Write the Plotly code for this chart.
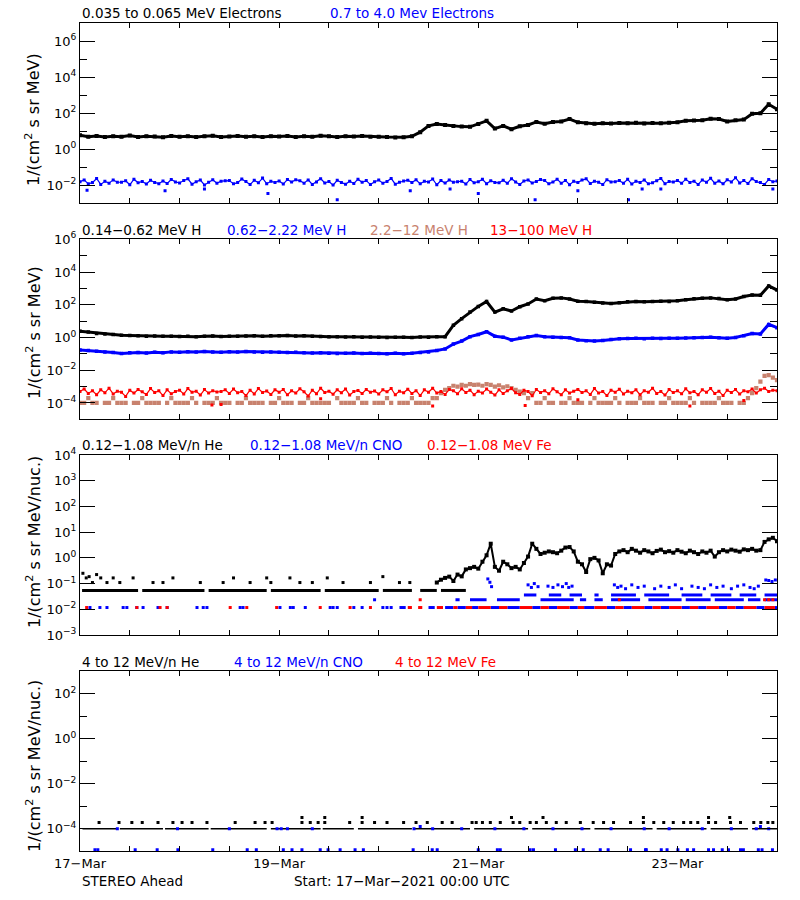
import numpy as np
import plotly.graph_objects as go

# ---------------- DATA (log10 of flux) ----------------
# hours since 17-Mar-2021 00:00 UTC
# Panel 1: electrons (2-hourly / hourly)
e_lo_log = [0.78,0.70,0.74,0.68,0.73,0.70,0.76,0.69,0.72,0.71,0.67,0.74,
            0.70,0.73,0.68,0.72,0.75,0.69,0.71,0.74,0.70,0.73,0.68,0.72,
            0.71,0.74,0.69,0.73,0.70,0.75,0.72,0.68,0.73,0.71,0.74,0.70,
            0.70,0.68,0.66,0.67,0.72,0.95,1.30,1.40,1.35,1.30,1.26,1.25,
            1.40,1.58,1.15,1.30,1.12,1.28,1.35,1.52,1.42,1.52,1.55,1.68,
            1.50,1.45,1.42,1.45,1.43,1.46,1.45,1.47,1.44,1.46,1.45,1.47,
            1.50,1.58,1.60,1.62,1.70,1.68,1.55,1.62,1.65,1.98,2.00,2.50,
            2.22]
e_hi_log = [-1.80,-1.70,-1.92,-1.85,-1.62,-1.95,-1.78,-1.88,-1.70,-1.83,-1.83,-1.75,-1.97,-1.66,-1.86,-1.79,-1.93,-1.72,-1.84,-1.91,-1.76,-1.90,-1.68,-1.81,
            -1.87,-1.73,-1.64,-1.94,-1.80,-1.71,-1.98,-1.83,-1.69,-1.89,-1.77,-1.75,-1.74,-1.92,-1.85,-1.65,-1.79,-1.96,-1.72,-1.86,-1.60,-1.91,-1.78,-1.84,
            -1.76,-1.93,-1.68,-1.82,-1.69,-1.75,-1.88,-1.70,-1.95,-1.81,-1.63,-1.87,-1.79,-1.99,-1.72,-1.84,-1.94,-1.77,-1.90,-1.66,-1.83,-1.74,-1.96,-1.80,
            -1.71,-1.88,-1.79,-1.62,-1.94,-1.83,-1.76,-1.72,-1.85,-1.69,-1.92,-1.78,-1.81,-1.65,-1.97,-1.74,-1.87,-1.70,-1.83,-1.80,-1.77,-1.93,-1.68,-1.86,
            -1.80,-1.67,-1.91,-1.75,-1.84,-1.86,-1.72,-1.89,-1.63,-1.82,-1.95,-1.76,-1.70,-1.87,-1.79,-1.68,-1.74,-1.92,-1.81,-1.66,-1.88,-1.73,-1.97,-1.78,
            -1.85,-1.71,-1.64,-1.90,-1.77,-1.83,-1.96,-1.69,-1.81,-1.80,-1.74,-1.88,-1.67,-1.93,-1.78,-1.84,-1.71,-1.92,-1.86,-1.75,-1.62,-1.91,-1.79,-1.82,
            -1.73,-1.89,-1.66,-1.84,-1.77,-1.95,-1.70,-1.83,-1.61,-1.88,-1.76,-1.92,-1.69,-1.81,-1.58,-1.87,-1.74,-1.90,-1.63,-1.79,-1.85,-1.95,-1.68,-1.80,
            -1.76]
e_hi_out_h = [1.7, 20.5, 30, 45.3, 62, 79.6, 89.2, 96, 109.7, 120, 132.2, 135.5, 140, 167]
e_hi_out_log = [-2.28, -2.30, -2.20, -2.45, -2.80, -2.30, -2.20, -2.45, -2.80, -2.30, -2.80, -2.20, -2.20, -2.20]

# Panel 2: protons
h_lo_log = [0.38,0.33,0.25,0.22,0.18,0.14,0.12,0.10,0.08,0.09,0.07,0.08,
            0.06,0.08,0.05,0.07,0.09,0.06,0.08,0.07,0.09,0.10,0.08,0.11,
            0.10,0.12,0.09,0.11,0.08,0.06,0.05,0.04,0.03,0.05,0.02,0.03,
            0.02,0.00,0.01,0.02,0.00,0.03,0.02,0.04,0.05,0.75,1.15,1.55,
            1.90,2.20,1.55,1.75,1.62,1.88,2.05,2.35,2.25,2.40,2.42,2.35,
            2.22,2.20,2.15,2.10,2.07,2.12,2.18,2.20,2.18,2.20,2.22,2.20,
            2.25,2.30,2.36,2.40,2.42,2.38,2.30,2.35,2.50,2.60,2.58,3.15,
            2.90]
h_mid_log = [-0.77,-0.80,-0.84,-0.88,-0.92,-0.98,-0.93,-0.92,-0.95,-0.90,-0.93,-0.88,
             -0.90,-0.87,-0.89,-0.86,-0.88,-0.90,-0.87,-0.89,-0.86,-0.88,-0.91,-0.89,
             -0.90,-0.92,-0.91,-0.93,-0.95,-0.94,-0.96,-0.98,-0.97,-0.95,-0.98,-0.96,
             -0.98,-1.00,-0.97,-0.99,-0.96,-0.92,-0.88,-0.80,-0.70,-0.40,-0.22,0.05,
             0.18,0.35,0.08,0.02,-0.15,-0.05,0.05,0.12,0.05,0.02,0.00,-0.02,
             -0.15,-0.20,-0.22,-0.18,-0.12,-0.08,-0.06,-0.05,-0.07,-0.05,-0.06,-0.04,
             -0.05,-0.03,-0.02,0.00,0.02,-0.02,-0.05,0.00,0.10,0.24,0.22,0.80,
             0.60]
h_hi_log = [-4.0,-4.0,-3.7,-4.0,-4.0,None,-4.0,-4.0,-3.7,-4.0,-4.0,-4.0,None,-4.0,-4.0,-3.7,-4.0,-4.0,-4.0,-4.0,None,-4.0,-3.7,-4.0,
            -4.0,-4.0,-4.0,-3.7,-4.0,None,-4.0,-4.0,-4.0,-3.7,-4.0,-4.0,-4.0,None,-4.0,-4.0,-3.7,-4.0,-4.0,-4.0,-4.0,None,-4.0,-4.0,
            -3.7,-4.0,-4.0,-4.0,None,-4.0,-4.0,-3.7,-4.0,-4.0,-4.0,-4.0,-4.0,None,-3.7,-4.0,-4.0,-4.0,-4.0,-3.7,-4.0,-4.0,None,-4.0,
            -4.0,-4.0,-3.7,-4.0,None,-4.0,-4.0,-4.0,-3.7,-4.0,-4.0,-4.0,-4.0,-3.7,-3.7,-3.4,-3.2,-3.1,-2.95,-3.0,-2.9,-2.95,-2.85,-2.9,
            -2.88,-2.95,-2.85,-2.9,-3.0,-2.92,-3.05,-2.98,-3.1,-3.2,-3.3,-3.4,-3.7,-3.4,-4.0,-4.0,-3.7,-4.0,-4.0,None,-4.0,-4.0,-3.7,-4.0,
            -4.0,-4.0,None,-4.0,-3.7,-4.0,-4.0,-4.0,-4.0,-3.7,-4.0,None,-4.0,-4.0,-4.0,-3.7,-4.0,-4.0,-4.0,None,-4.0,-4.0,-3.7,-4.0,
            -4.0,-4.0,-4.0,-3.7,-4.0,None,-4.0,-4.0,-4.0,-4.0,-3.7,-4.0,-4.0,-4.0,None,-4.0,-4.0,-3.7,-3.4,-3.1,-2.7,-2.35,-2.3,-2.45,
            -2.6]
h_top_log = [-3.30,-3.15,-3.42,-3.25,-3.50,-3.20,-3.38,-3.10,-3.45,-3.28,-3.35,-3.60,-3.22,-3.40,-3.18,-3.32,-3.48,-3.12,-3.36,-3.26,-3.55,-3.20,-3.44,-3.30,
             -3.22,-3.46,-3.12,-3.35,-3.28,-3.52,-3.18,-3.40,-3.25,-3.33,-3.30,-3.20,-3.42,-3.15,-3.38,-3.30,-3.55,-3.22,-3.45,-3.12,-3.36,-3.27,-3.48,-3.20,
             -3.34,-3.18,-3.50,-3.26,-3.40,-3.14,-3.32,-3.58,-3.22,-3.44,-3.10,-3.36,-3.28,-3.47,-3.20,-3.38,-3.15,-3.52,-3.30,-3.24,-3.42,-3.18,-3.35,-3.27,
             -3.45,-3.20,-3.32,-3.12,-3.50,-3.28,-3.38,-3.16,-3.42,-3.25,-3.55,-3.20,-3.35,-3.10,-3.40,-3.30,-3.48,-3.18,-3.26,-3.44,-3.14,-3.36,-3.22,-3.50,
             -3.28,-3.40,-3.15,-3.34,-3.52,-3.20,-3.42,-3.26,-3.12,-3.38,-3.48,-3.22,-3.30,-3.56,-3.18,-3.36,-3.25,-3.44,-3.14,-3.32,-3.50,-3.20,-3.40,-3.28,
             -3.18,-3.36,-3.26,-3.48,-3.12,-3.40,-3.30,-3.55,-3.22,-3.34,-3.16,-3.45,-3.28,-3.38,-3.20,-3.50,-3.25,-3.35,-3.10,-3.42,-3.30,-3.52,-3.18,-3.36,
             -3.26,-3.44,-3.14,-3.38,-3.30,-3.50,-3.20,-3.35,-3.12,-3.42,-3.28,-3.55,-3.22,-3.36,-3.18,-3.46,-3.25,-3.32,-3.15,-3.40,-3.20,-3.10,-3.30,-3.22,
             -3.25]
h_top_out_h = [31.8, 34, 58, 85, 107.3, 120, 147, 160]
h_top_out_log = [-4.13, -4.10, -3.75, -4.19, -4.15, -3.80, -4.19, -3.85]

# Panel 3: 0.12-1.08 MeV/n ions
he_base_val = 0.054
he_base_seg = [(0.5, 14), (15, 30), (31, 45), (46, 58), (59, 72), (73, 80), (82, 86), (87, 93)]
he_sparse_h = [0.7, 1.5, 2.2, 3.0, 4.0, 5.0, 6.5, 8, 9.6, 12.8, 17.6, 20, 22.4, 29, 34.5, 37, 41,
               45, 46, 50.6, 53, 56, 59.6, 63.4, 70, 73, 77, 79.5]
he_sparse_log = [-0.60, -0.78, -0.73, -0.96, -0.65, -0.78, -0.96, -0.78, -0.96, -0.78, -0.96, -0.96,
                 -0.78, -0.96, -0.96, -0.78, -0.96, -0.78, -0.96, -0.78, -0.96, -0.96, -0.78, -0.96,
                 -0.96, -0.73, -0.96, -0.96]
he_evt_start = 86
he_evt_log = [-0.96,-0.85,-0.78,-0.73,-0.90,-0.65,-0.72,-0.45,-0.40,-0.35,
              -0.42,-0.15,0.10,0.55,-0.35,-0.50,-0.15,-0.25,-0.40,-0.35,
              -0.45,-0.20,0.05,0.55,0.35,0.15,0.20,0.25,0.22,0.18,
              0.28,0.40,0.42,0.25,-0.15,-0.25,-0.55,-0.05,0.00,-0.10,
              -0.60,-0.25,-0.30,0.15,0.25,0.30,0.22,0.35,0.28,0.20,
              0.30,0.25,0.18,0.27,0.32,0.22,0.26,0.20,0.30,0.24,
              0.18,0.28,0.22,0.15,0.25,0.20,0.28,0.05,0.22,0.30,
              0.25,0.32,0.28,0.24,0.33,0.30,0.35,0.28,0.30,0.62,
              0.72,0.78,0.65]
ion_levels = [0.0117, 0.0235, 0.036]
cno_low_h = [2.4, 4.8, 6.5, 10.4, 11.3, 13.7, 15.2, 18.8, 21, 28.2, 29.7, 30.6, 38.6, 39.3, 48.2,
             50.7, 51.4, 54.3, 60.3, 61, 62, 66, 68, 73, 74, 75]
cno_low_seg = [(77,78.5),(84,85.5),(88,90),(91,93),(94.5,96),(99,101),(103,106),(109,111),(113,115),
               (118,120),(121.5,124),(127,129),(131,133),(136,138),(140,142),(145,147),(149,151),
               (154,156),(158,160),(163,165),(167.5,168)]
cno_l2_seg = [(90.5,91.5),(94,98),(100.5,106),(111,119),(120.5,122),(124,126),(128,135),(137,145),
              (146,152),(153,160),(161,164),(165,168)]
cno_l3_seg = [(107,110),(113,116),(118,121),(124,125),(128,134),(136,142),(145,150),(152,157),
              (159,163),(165,168)]
cno_hi_h = [71, 98.3, 98.8, 99.2, 108, 108.8, 109.5, 110.4, 112.8, 114, 115.2, 116.3, 117.2, 117.8, 118.6,
            128.8, 129.6, 130.4, 131.5, 133, 134.5, 136, 138.5, 140, 142, 143.5, 145, 147.5, 149,
            150.5, 152, 153.5, 155, 157, 158.5, 160, 161.5, 162.5, 163.5, 165.3, 166, 166.8, 167.6]
cno_hi_log = [-1.63, -0.82, -0.95, -1.12, -1.05, -1.15, -1.00, -1.12, -1.10, -1.15, -1.05, -1.12, -1.00, -1.15,
              -1.10, -1.05, -1.15, -1.10, -1.20, -1.05, -1.15, -1.10, -1.20, -1.10, -1.15, -1.05, -1.20,
              -1.10, -1.15, -1.20, -1.05, -1.15, -1.10, -1.20, -1.10, -1.05, -1.15, -1.20, -1.10, -0.86,
              -0.88, -0.92, -0.86]
fe_low_h = [1.6, 13.7, 19.3, 21, 36.2, 40.2, 47.4, 57.9, 65.1, 70]
fe_low_seg = [(79,80),(81.5,82.5),(86,87.5),(90,91),(93,94.5),(96,99),(101,103),(106,109),(111,113),
              (115,118),(120,121.5),(124,127),(129,131),(133,136),(138,140),(142,145),(147,149),
              (151,154),(156,158),(160,163),(165,167.5)]
fe_l2_h = [82, 130, 165, 166, 167]

# Panel 4: 4-12 MeV/n ions
he4_base_val = 1.0e-4
he4_seg = [(0.6,9),(9.6,20),(20.5,31),(31.5,45),(46,58),(58.5,66),(67,80),(80.5,94),(95,108),
           (109,123),(124,138),(139,151),(152,161),(162,168)]
he4_dot_h = [4.6, 9.4, 12.5, 15, 18.8, 22.4, 24.6, 27, 30.6, 37.4, 42.2, 44.6, 46.3, 53.5, 55.5, 57.4,
             59, 65, 68, 71, 74, 78, 81, 83.7, 87.3, 89.7, 94.5, 95.5, 97, 98.9, 101.3, 104.4, 106,
             108.5, 110, 112.4, 114.8, 117.2, 120.6, 123.7, 126.2, 128.6, 132.7, 135.8, 138.3, 140.7,
             143, 145.5, 147.2, 148.9, 151.5, 153.2, 156.8, 159.2, 162.4, 164.1, 165.8, 167]
he4_dot_log = -3.72
he4_dot2_h = [53.5, 59, 68, 104, 111.6, 135.8, 151.5, 156.6]
he4_dot2_log = -3.5
cno4_mid_h = [9, 23.5, 36, 47.5, 48.5, 50, 56, 80.5, 85, 92, 100, 107, 114, 121, 128, 136, 142, 150,
              157, 163, 166]
cno4_mid2_h = [82, 164]
cno4_low_h = [3.6, 4.3, 13.3, 18.6, 23.6, 32, 40.3, 42.5, 49, 51.1, 53.5, 57.9, 59.8, 62.7, 66.3, 68.3,
              80.3, 84.9, 86.1, 96, 100.6, 101.3, 108.5, 109.3, 114.6, 119.4, 121.3, 125.4, 127.3,
              132.7, 136.3, 136.5, 140.1, 141.5, 144.1, 146.4, 147.9, 151.5, 152.7, 154.8, 156.3,
              159.2, 159.9, 163.5, 164.4, 166.9]
cno4_low_log = -4.93

x_label_hours = [0, 48, 96, 144]
x_label_text = ["17\u2212Mar", "19\u2212Mar", "21\u2212Mar", "23\u2212Mar"]
x_minor_step = 12

# ---------------- helpers ----------------
BLACK, BLUE, RED, BROWN = "#000000", "#0000ff", "#ff0000", "#c8826e"
FONT = "DejaVu Sans"


def pw(vals):
    return [None if v is None else 10.0 ** v for v in vals]


def seg_xy(segs, val):
    xs, ys = [], []
    for a, b in segs:
        xs += [a, b, None]
        ys += [val, val, None]
    return xs, ys


fig = go.Figure()


def add(ax, x, y, color, mode="markers", size=3, lw=2):
    fig.add_trace(go.Scatter(
        x=x, y=y, mode=mode, xaxis="x" + ax, yaxis="y" + ax,
        marker=dict(symbol="square", size=size, color=color, line=dict(width=0)),
        line=dict(color=color, width=lw), connectgaps=False, showlegend=False,
        hoverinfo="skip"))


def hours2(arr):
    return [2 * i for i in range(len(arr))]


def hours1(arr):
    return [i for i in range(len(arr))]


# Panel 1
add("", hours2(e_lo_log), pw(e_lo_log), BLACK, "lines+markers", 4, 3)
add("", hours1(e_hi_log), pw(e_hi_log), BLUE, "lines+markers", 3, 1.2)
add("", e_hi_out_h, pw(e_hi_out_log), BLUE, "markers", 3)
# Panel 2
add("2", hours2(h_lo_log), pw(h_lo_log), BLACK, "lines+markers", 3.5, 3)
add("2", hours2(h_mid_log), pw(h_mid_log), BLUE, "lines+markers", 3.5, 3)
add("2", hours1(h_hi_log), pw(h_hi_log), BROWN, "markers", 4.2)
add("2", hours1(h_top_log), pw(h_top_log), RED, "lines+markers", 3, 1.2)
add("2", h_top_out_h, pw(h_top_out_log), RED, "markers", 3)
# Panel 3
xs, ys = seg_xy(he_base_seg, he_base_val)
add("3", xs, ys, BLACK, "lines", 3, 3)
add("3", he_sparse_h, pw(he_sparse_log), BLACK, "markers", 3)
add("3", [he_evt_start + i for i in range(len(he_evt_log))], pw(he_evt_log), BLACK, "lines+markers", 4, 2)
add("3", cno_low_h, [ion_levels[0]] * len(cno_low_h), BLUE, "markers", 3)
xs, ys = seg_xy(cno_low_seg, ion_levels[0])
add("3", xs, ys, BLUE, "lines", 3, 3)
xs, ys = seg_xy(cno_l2_seg, ion_levels[1])
add("3", xs, ys, BLUE, "lines", 3, 3)
xs, ys = seg_xy(cno_l3_seg, ion_levels[2])
add("3", xs, ys, BLUE, "lines", 3, 3)
add("3", cno_hi_h, pw(cno_hi_log), BLUE, "markers", 3)
add("3", fe_low_h, [ion_levels[0]] * len(fe_low_h), RED, "markers", 3)
xs, ys = seg_xy(fe_low_seg, ion_levels[0])
add("3", xs, ys, RED, "lines", 3, 3)
add("3", fe_l2_h, [ion_levels[1]] * len(fe_l2_h), RED, "markers", 3)
# Panel 4
xs, ys = seg_xy(he4_seg, he4_base_val)
add("4", xs, ys, BLACK, "lines", 3, 1.5)
add("4", he4_dot_h, [10 ** he4_dot_log] * len(he4_dot_h), BLACK, "markers", 3)
add("4", he4_dot2_h, [10 ** he4_dot2_log] * len(he4_dot2_h), BLACK, "markers", 3)
add("4", cno4_mid_h, [he4_base_val] * len(cno4_mid_h), BLUE, "markers", 3)
add("4", cno4_mid2_h, [1.25e-4] * len(cno4_mid2_h), BLUE, "markers", 3)
add("4", cno4_low_h, [10 ** cno4_low_log] * len(cno4_low_h), BLUE, "markers", 3)

# ---------------- layout ----------------
W, HGT = 800, 900
XD = [80 / W, 777 / W]
panels = [  # (top px, bottom px, log range, labelled decades, minor decades)
    (23.3, 203.3, [-3, 7], [-2, 0, 2, 4, 6], [-1, 1, 3, 5]),
    (239.3, 419.3, [-5, 6], [-4, -2, 0, 2, 4, 6], [-3, -1, 1, 3, 5]),
    (455.0, 635.0, [-3, 4], [-3, -2, -1, 0, 1, 2, 3, 4], []),
    (671.3, 851.3, [-5, 3], [-4, -2, 0, 2], [-3, -1, 1]),
]


def sup(n):
    s = str(n).replace("-", "\u2212")
    return "10<sup>" + s + "</sup>"


layout = dict(width=W, height=HGT, margin=dict(l=0, r=0, t=0, b=0, autoexpand=False),
              paper_bgcolor="white", plot_bgcolor="white",
              font=dict(family=FONT, size=13, color="black"), showlegend=False)

for i, (top, bot, rng, lab, mnr) in enumerate(panels):
    sfx = "" if i == 0 else str(i + 1)
    ydom = [1 - bot / HGT, 1 - top / HGT]
    layout["xaxis" + sfx] = dict(
        domain=XD, range=[0, 168], anchor="y" + sfx, automargin=False,
        tickvals=x_label_hours, ticktext=x_label_text,
        showticklabels=(i == 3), ticks="inside", ticklen=5, tickwidth=1, tickcolor="black",
        minor=dict(tick0=0, dtick=x_minor_step, ticks="inside", ticklen=5, tickwidth=1,
                   tickcolor="black", showgrid=False),
        showline=True, linecolor="black", linewidth=1, mirror="ticks",
        showgrid=False, zeroline=False, tickfont=dict(family=FONT, size=13, color="black"))
    layout["yaxis" + sfx] = dict(
        domain=ydom, type="log", range=rng, anchor="x" + sfx, automargin=False,
        tickvals=[10.0 ** d for d in lab], ticktext=[sup(d) for d in lab],
        ticks="inside", ticklen=15, tickwidth=1, tickcolor="black",
        minor=dict(tickvals=[10.0 ** d for d in mnr], ticks="inside", ticklen=7,
                   tickwidth=1, tickcolor="black", showgrid=False),
        showline=True, linecolor="black", linewidth=1, mirror="ticks",
        showgrid=False, zeroline=False, tickfont=dict(family=FONT, size=13, color="black"))

fig.update_layout(**layout)

# titles above each panel
titles = [
    (13, [(80, "0.035 to 0.065 MeV Electrons", BLACK), (328, "0.7 to 4.0 Mev Electrons", BLUE)]),
    (229.5, [(80, "0.14\u22120.62 MeV H", BLACK), (225, "0.62\u22122.22 MeV H", BLUE),
             (368, "2.2\u221212 MeV H", BROWN), (488, "13\u2212100 MeV H", RED)]),
    (445, [(80, "0.12\u22121.08 MeV/n He", BLACK), (248, "0.12\u22121.08 MeV/n CNO", BLUE),
           (425, "0.12\u22121.08 MeV Fe", RED)]),
    (662, [(80, "4 to 12 MeV/n He", BLACK), (232, "4 to 12 MeV/n CNO", BLUE),
           (393, "4 to 12 MeV Fe", RED)]),
]
ann = []
for yc, items in titles:
    for xp, txt, col in items:
        ann.append(dict(x=xp / W, y=1 - yc / HGT, xref="paper", yref="paper", text=txt,
                        showarrow=False, xanchor="left", yanchor="middle",
                        font=dict(family=FONT, size=13.5, color=col)))

ytitles = [(120, "1/(cm<sup>2</sup> s sr MeV)"), (333, "1/(cm<sup>2</sup> s sr MeV)"),
           (542, "1/(cm<sup>2</sup> s sr MeV/nuc.)"), (766, "1/(cm<sup>2</sup> s sr MeV/nuc.)")]
for yc, txt in ytitles:
    ann.append(dict(x=33 / W, y=1 - yc / HGT, xref="paper", yref="paper", text=txt,
                    showarrow=False, textangle=-90, xanchor="center", yanchor="middle",
                    font=dict(family=FONT, size=16, color="black")))

ann.append(dict(x=80 / W, y=1 - 881 / HGT, xref="paper", yref="paper", text="STEREO Ahead",
                showarrow=False, xanchor="left", yanchor="middle",
                font=dict(family=FONT, size=13.5, color="black")))
ann.append(dict(x=292 / W, y=1 - 881 / HGT, xref="paper", yref="paper",
                text="Start: 17\u2212Mar\u22122021 00:00 UTC",
                showarrow=False, xanchor="left", yanchor="middle",
                font=dict(family=FONT, size=13.5, color="black")))
fig.update_layout(annotations=ann)

fig.write_html("out.html", config={"displayModeBar": False},
               post_script="document.body.style.margin='0px';")
